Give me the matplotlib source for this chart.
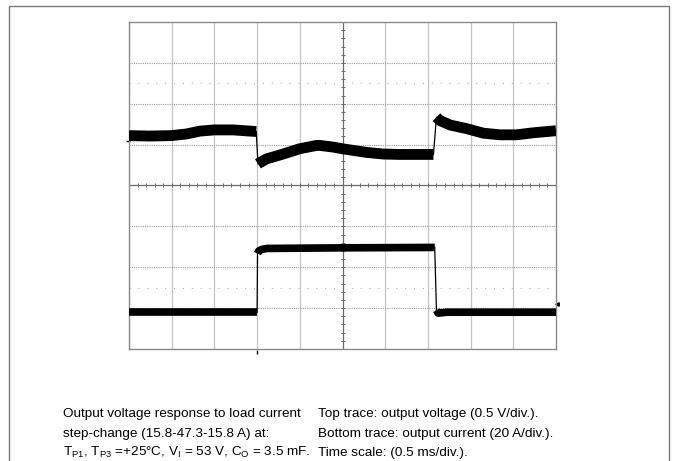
import matplotlib
matplotlib.use("Agg")
import matplotlib.pyplot as plt
from matplotlib.lines import Line2D
import numpy as np

plt.rcParams['font.family'] = ['Liberation Sans', 'DejaVu Sans']
plt.rcParams['mathtext.fontset'] = 'custom'
plt.rcParams['mathtext.rm'] = 'Liberation Sans'
plt.rcParams['mathtext.it'] = 'Liberation Sans:italic'

# ---- data (time in ms, 0.5 ms/div) ----
# Top trace: output voltage deviation (V) from channel reference, 0.5 V/div
v_t1 = [0.0, 0.24, 0.495, 0.67, 0.83, 1.0, 1.22, 1.49]
v_v1 = [0.065, 0.06, 0.065, 0.085, 0.12, 0.135, 0.135, 0.115]
v_t2 = [1.51, 1.525, 1.61, 1.805, 2.0, 2.195, 2.235, 2.39, 2.495, 2.78, 2.975, 3.17, 3.365, 3.565]
v_v2 = [-0.28, -0.27, -0.22, -0.16, -0.095, -0.055, -0.055, -0.075, -0.095, -0.14, -0.16, -0.165, -0.165, -0.165]
v_t3 = [3.6, 3.64, 3.76, 3.955, 4.15, 4.345, 4.54, 4.735, 5.0]
v_v3 = [0.29, 0.25, 0.195, 0.15, 0.095, 0.075, 0.075, 0.10, 0.125]

# Bottom trace: output current (A), 20 A/div
i_t1 = [0.0, 1.5]
i_a1 = [15.8, 15.8]
i_t2 = [1.505, 1.52, 1.56, 1.62, 2.5, 3.58]
i_a2 = [44.5, 45.8, 46.6, 47.0, 47.3, 47.5]
i_t3 = [3.6, 3.62, 3.66, 3.72, 5.0]
i_a3 = [16.8, 15.4, 15.5, 15.8, 15.8]

V_PER_DIV = 0.5
A_PER_DIV = 20.0
MS_PER_DIV = 0.5
V_REF_DIV = 1.09
I_ZERO_DIV = -3.89

W, H = 676, 461
fig = plt.figure(figsize=(W / 100, H / 100), dpi=100)

def fx(px):
    return px / W

def fy(py):
    return 1 - py / H

# outer frame
fig.add_artist(Line2D([fx(9), fx(9), fx(669), fx(669)], [fy(470), fy(6), fy(6), fy(470)],
                      color='#7a7a7a', lw=1.0, transform=fig.transFigure))

ax = fig.add_axes([fx(129), fy(349), fx(556) - fx(129), fy(22) - fy(349)])
ax.set_xlim(0, 10)
ax.set_ylim(-4, 4)
ax.set_xticks([])
ax.set_yticks([])
for s in ax.spines.values():
    s.set_color('#8a8a8a')
    s.set_linewidth(1.0)

# graticule
for xd in range(1, 10):
    if xd == 5:
        continue
    ax.axvline(xd, color='#c4c4c4', lw=0.9, zorder=1)
for yd in range(-3, 4):
    if yd == 0:
        continue
    ax.axhline(yd, color='#9a9a9a', lw=0.8, ls=(0, (1, 1)), zorder=1)
for yd in (2.5, -2.5):
    ax.axhline(yd, color='#b0b0b0', lw=0.8, ls=(0, (1, 7)), zorder=1)
ax.axhline(0, color='#6a6a6a', lw=0.9, zorder=2)
ax.axvline(5, color='#6a6a6a', lw=0.9, zorder=2)
minor = np.arange(0.2, 10, 0.2)
ax.plot(minor, np.zeros_like(minor), ls='none', marker='|', ms=3.5, mew=0.7, color='#6a6a6a', zorder=2)
minor_y = np.arange(-3.8, 4, 0.2)
ax.plot(np.full_like(minor_y, 5.0), minor_y, ls='none', marker='_', ms=3.5, mew=0.7, color='#6a6a6a', zorder=2)

def vdiv(vals):
    return [V_REF_DIV + v / V_PER_DIV for v in vals]

def idiv(vals):
    return [I_ZERO_DIV + a / A_PER_DIV for a in vals]

def tdiv(vals):
    return [t / MS_PER_DIV for t in vals]

# voltage trace
for t, v in ((v_t1, v_v1), (v_t2, v_v2), (v_t3, v_v3)):
    ax.plot(tdiv(t), vdiv(v), color='black', lw=7.8, solid_capstyle='butt', solid_joinstyle='round', zorder=5)
ax.plot(tdiv([v_t1[-1], v_t2[0]]), vdiv([v_v1[-1], v_v2[0]]), color='black', lw=0.9, zorder=5)
ax.plot(tdiv([v_t2[-1], v_t3[0]]), vdiv([v_v2[-1], v_v3[0]]), color='black', lw=0.9, zorder=5)

# current trace
for t, a in ((i_t1, i_a1), (i_t2, i_a2), (i_t3, i_a3)):
    ax.plot(tdiv(t), idiv(a), color='black', lw=5.5, solid_capstyle='butt', solid_joinstyle='round', zorder=5)
ax.plot(tdiv([i_t1[-1], i_t2[0]]), idiv([i_a1[-1], i_a2[0]]), color='black', lw=0.9, zorder=5)
ax.plot(tdiv([i_t2[-1], i_t3[0]]), idiv([i_a2[-1], i_a3[0]]), color='black', lw=0.9, zorder=5)

# small channel / trigger markers
ax.plot([-0.03], [V_REF_DIV], marker='_', ms=3, color='black', clip_on=False)
ax.plot([3.0], [-4.08], marker='|', ms=3, color='black', clip_on=False)
ax.plot([10.03], [-2.9], marker='<', ms=2.5, color='black', clip_on=False)

# caption
fs = 9.7
fig.text(fx(63), fy(417), "Output voltage response to load current", fontsize=fs, va='baseline')
fig.text(fx(63), fy(437), "step-change (15.8-47.3-15.8 A) at:", fontsize=fs, va='baseline')
fig.text(fx(63), fy(456),
         r"$\mathregular{T_{P1}}$, $\mathregular{T_{P3}}$ =+25°C, $\mathregular{V_{I}}$ = 53 V, $\mathregular{C_{O}}$ = 3.5 mF.",
         fontsize=fs, va='baseline')
fig.text(fx(318), fy(417), "Top trace: output voltage (0.5 V/div.).", fontsize=fs, va='baseline')
fig.text(fx(318), fy(437), "Bottom trace: output current (20 A/div.).", fontsize=fs, va='baseline')
fig.text(fx(318), fy(456), "Time scale: (0.5 ms/div.).", fontsize=fs, va='baseline')

fig.savefig("out.png", dpi=100)
